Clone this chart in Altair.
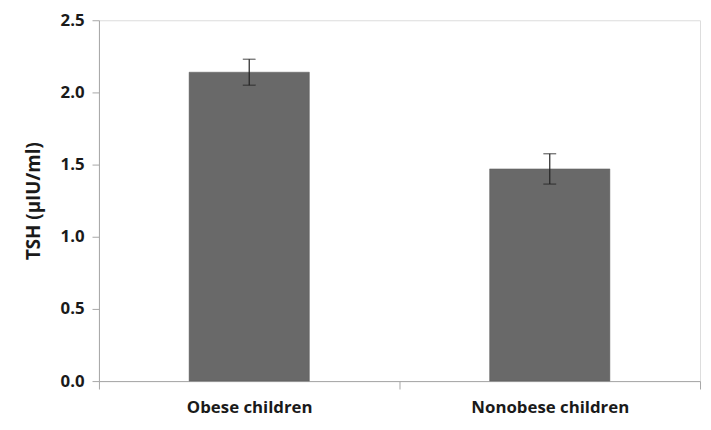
import altair as alt
import pandas as pd

groups = ["Obese children", "Nonobese children"]
means = [2.14, 1.47]
errors = [0.09, 0.105]

df = pd.DataFrame({
    "group": groups,
    "mean": means,
    "lo": [m - e for m, e in zip(means, errors)],
    "hi": [m + e for m, e in zip(means, errors)],
})

FONT = "Open Sans"

x = alt.X(
    "group:N",
    sort=groups,
    title=None,
    scale=alt.Scale(paddingInner=0, paddingOuter=0),
    axis=alt.Axis(
        labelAngle=0,
        tickBand="extent",
        tickSize=8,
        labelPadding=11,
        labelFont=FONT,
        labelFontSize=17,
        labelFontWeight="bold",
        labelColor="#1a1a1a",
        domainColor="#a6a6a6",
        tickColor="#a6a6a6",
    ),
)

bars = alt.Chart(df).mark_bar(
    color="#696969", stroke="#5a5a5a", strokeWidth=0.5, width=alt.RelativeBandSize(0.4)
).encode(
    x=x,
    y=alt.Y(
        "mean:Q",
        title="TSH (µIU/ml)",
        scale=alt.Scale(domain=[0, 2.5], nice=False),
        axis=alt.Axis(
            values=[0, 0.5, 1.0, 1.5, 2.0, 2.5],
            format=".1f",
            grid=False,
            tickSize=7,
            labelPadding=8,
            labelFont=FONT,
            labelFontSize=17,
            labelFontWeight="bold",
            labelColor="#1a1a1a",
            titleFont=FONT,
            titleFontSize=19,
            titleFontWeight="bold",
            titleColor="#1a1a1a",
            titlePadding=17,
            domainColor="#a6a6a6",
            tickColor="#a6a6a6",
        ),
    ),
)

rule = alt.Chart(df).mark_rule(color="#222222", strokeWidth=1.2).encode(
    x=alt.X("group:N", sort=groups),
    y="lo:Q",
    y2="hi:Q",
)

caps_hi = alt.Chart(df).mark_tick(color="#222222", thickness=1.2, size=13, orient="horizontal").encode(
    x=alt.X("group:N", sort=groups),
    y="hi:Q",
)
caps_lo = alt.Chart(df).mark_tick(color="#222222", thickness=1.2, size=13, orient="horizontal").encode(
    x=alt.X("group:N", sort=groups),
    y="lo:Q",
)

chart = alt.layer(bars, rule, caps_hi, caps_lo).properties(
    width=608,
    height=365,
    autosize=alt.AutoSizeParams(type="none"),
    padding={"left": 92, "top": 10, "right": 3, "bottom": 40},
).configure_view(stroke=None).configure(background="white")

chart.save("out.html", embed_options={"renderer": "svg", "actions": False})
